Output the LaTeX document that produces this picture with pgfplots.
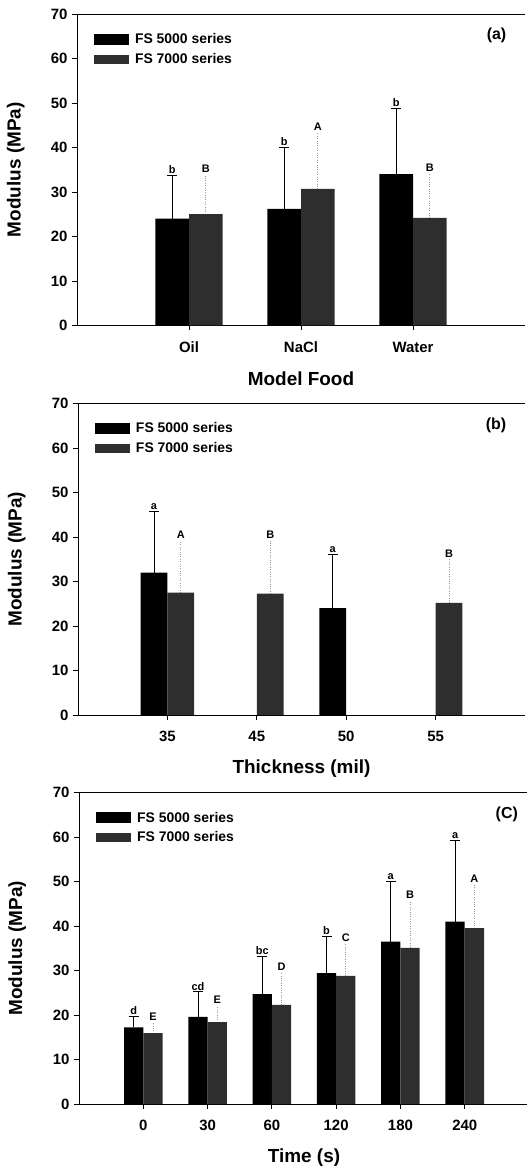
\documentclass[border=0pt]{standalone}
\usepackage{fontspec}
\setmainfont{Liberation Sans}
\usepackage{pgfplots}
\pgfplotsset{compat=1.18}

\definecolor{darkbar}{gray}{0.18}
\definecolor{errgray}{gray}{0.6}

\pgfplotsset{
  panel/.style={
    scale only axis, height=311.5bp,
    ymin=0, ymax=70, ytick={0,10,...,70},
    axis lines*=left, tick align=outside, major tick length=5bp,
    every tick/.style={black, line width=0.9bp},
    axis line style={line width=0.9bp},
    clip=false,
    /pgf/number format/assume math mode=true,
    ticklabel style={font=\bfseries\fontsize{15}{18}\selectfont},
    yticklabel style={xshift=-1bp},
    xticklabel style={yshift=-8bp},
    label style={font=\bfseries\fontsize{19}{22}\selectfont},
    ylabel={Modulus (MPa)},
    ylabel style={at={(axis description cs:-0.137,0.5)}, anchor=center},
    xlabel style={at={(axis description cs:0.5,-0.172)}, anchor=center},
    legend style={at={(axis description cs:0.03,0.948)}, anchor=north west,
      draw=none, fill=none, font=\bfseries\fontsize{14}{16}\selectfont,
      row sep=6bp, nodes={inner sep=1bp},
      /tikz/every odd column/.append style={column sep=6bp}},
    legend cell align=left,
  },
  bar5/.style={ybar, bar width=0.3, bar shift=-0.15, fill=black, draw=none, forget plot},
  bar7/.style={ybar, bar width=0.3, bar shift=0.15, fill=darkbar, draw=none, forget plot},
  err5/.style={draw=none, mark=none, forget plot,
    error bars/.cd, y dir=plus, y explicit, error mark=-,
    error mark options={rotate=90, draw=black, solid, line width=0.9bp, mark size=5bp},
    error bar style={draw=black, solid, line width=0.8bp}},
  err7/.style={draw=none, mark=none, forget plot,
    error bars/.cd, y dir=plus, y explicit, error mark=none,
    error bar style={draw=errgray, dotted, line width=0.8bp}},
  lbl/.style={draw=none, mark=none, forget plot, nodes near coords,
    point meta=explicit symbolic,
    nodes near coords style={inner sep=1.5bp, font=\bfseries\fontsize{11}{12}\selectfont}},
}

\newcommand{\legendpair}{%
  \addlegendimage{legend image code/.code={\fill[black] (0bp,-5bp) rectangle (34bp,5bp);}}
  \addlegendentry{FS 5000 series}
  \addlegendimage{legend image code/.code={\fill[darkbar] (0bp,-4bp) rectangle (34bp,4bp);}}
  \addlegendentry{FS 7000 series}
}

\begin{document}
\begin{tikzpicture}
\path[use as bounding box] (0,0) rectangle (527bp,1169bp);

% (a) model food
\begin{axis}[panel, width=448bp, at={(77bp,843.5bp)}, anchor=south west,
  xmin=0, xmax=4, xtick={1,2,3}, xticklabels={Oil,NaCl,Water},
  xlabel={Model Food}]
\legendpair
\addplot[err7] coordinates {(1.15,25.0) +- (0,9.0) (2.15,30.7) +- (0,12.8) (3.15,24.2) +- (0,10.1)};
\addplot[bar5] coordinates {(1,24.0) (2,26.2) (3,34.0)};
\addplot[bar7] coordinates {(1,25.0) (2,30.7) (3,24.2)};
\addplot[err5] coordinates {(0.85,24.0) +- (0,9.7) (1.85,26.2) +- (0,13.8) (2.85,34.0) +- (0,14.8)};
\addplot[lbl] coordinates {(0.85,33.7) [b] (1.85,40.0) [b] (2.85,48.8) [b]
  (1.15,34.0) [B] (2.15,43.5) [A] (3.15,34.3) [B]};
\draw[line width=0.9bp] (rel axis cs:0,1) -- (rel axis cs:1,1);
\node[anchor=east, font=\bfseries\fontsize{16}{18}\selectfont] at (rel axis cs:0.966,0.93) {(a)};
\end{axis}

% (b) thickness
\begin{axis}[panel, width=447bp, at={(78bp,454bp)}, anchor=south west,
  xmin=0, xmax=5, xtick={1,2,3,4}, xticklabels={35,45,50,55},
  xlabel={Thickness (mil)}]
\legendpair
\addplot[err7] coordinates {(1.15,27.5) +- (0,11.7) (2.15,27.3) +- (0,11.9) (4.15,25.2) +- (0,9.8)};
\addplot[bar5] coordinates {(1,32.0) (3,24.0)};
\addplot[bar7] coordinates {(1,27.5) (2,27.3) (4,25.2)};
\addplot[err5] coordinates {(0.85,32.0) +- (0,13.7) (2.85,24.0) +- (0,12.1)};
\addplot[lbl] coordinates {(0.85,45.7) [a] (2.85,36.1) [a]
  (1.15,39.2) [A] (2.15,39.2) [B] (4.15,35.0) [B]};
\draw[line width=0.9bp] (rel axis cs:0,1) -- (rel axis cs:1,1);
\node[anchor=east, font=\bfseries\fontsize{16}{18}\selectfont] at (rel axis cs:0.966,0.93) {(b)};
\end{axis}

% (c) time
\begin{axis}[panel, width=450bp, at={(79bp,65bp)}, anchor=south west,
  xmin=0, xmax=7, xtick={1,2,3,4,5,6}, xticklabels={0,30,60,120,180,240},
  xlabel={Time (s)}]
\legendpair
\addplot[err7] coordinates {(1.15,15.9) +- (0,2.5) (2.15,18.4) +- (0,3.7) (3.15,22.3) +- (0,7.3)
  (4.15,28.8) +- (0,7.2) (5.15,35.1) +- (0,10.6) (6.15,39.5) +- (0,10.0)};
\addplot[bar5] coordinates {(1,17.2) (2,19.6) (3,24.7) (4,29.4) (5,36.5) (6,41.0)};
\addplot[bar7] coordinates {(1,15.9) (2,18.4) (3,22.3) (4,28.8) (5,35.1) (6,39.5)};
\addplot[err5] coordinates {(0.85,17.2) +- (0,2.4) (1.85,19.6) +- (0,5.6) (2.85,24.7) +- (0,8.4)
  (3.85,29.4) +- (0,8.2) (4.85,36.5) +- (0,13.5) (5.85,41.0) +- (0,18.2)};
\addplot[lbl] coordinates {(0.85,19.6) [d] (1.85,25.2) [cd] (2.85,33.1) [bc]
  (3.85,37.6) [b] (4.85,50.0) [a] (5.85,59.2) [a]
  (1.15,18.4) [E] (2.15,22.1) [E] (3.15,29.6) [D] (4.15,36.0) [C] (5.15,45.7) [B] (6.15,49.5) [A]};
\draw[line width=0.9bp] (rel axis cs:0,1) -- (rel axis cs:1,1);
\node[anchor=east, font=\bfseries\fontsize{16}{18}\selectfont] at (rel axis cs:0.983,0.93) {(C)};
\end{axis}
\end{tikzpicture}
\end{document}
